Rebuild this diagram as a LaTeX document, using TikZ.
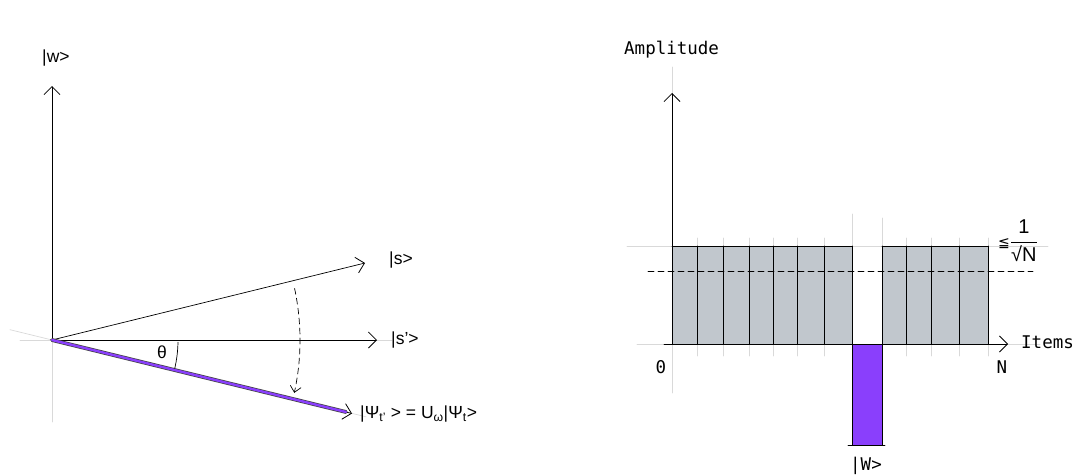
\documentclass[tikz,border=0pt]{standalone}
\usepackage{fontspec}
\setmainfont{Liberation Sans}
\newfontfamily\monofont{DejaVu Sans Mono}
\newfontfamily\symfont{DejaVu Sans}
\usetikzlibrary{arrows.meta}

\begin{document}
\begin{tikzpicture}[x=1pt, y=-1pt, line cap=round,
		% Styles
		guide line/.style={black!15, line width=0.7pt},
		vector/.style={-{Straight Barb[length=8pt, width=16pt, line width=0.8pt]}, line width=0.7pt},
		small vector/.style={-{Straight Barb[length=6pt, width=11pt, line width=0.7pt]}, line width=0.7pt},
		sans label/.style={font=\fontsize{17.5}{21}\selectfont, inner sep=0pt},
		mono label/.style={font=\monofont\fontsize{17.5}{21}\selectfont, inner sep=0pt}
		]
		
		% Colors
		\definecolor{statecolor}{HTML}{8A3FFC}
		\definecolor{barcolor}{HTML}{C1C7CD}
		
		\useasboundingbox (0,0) rectangle (1082,475);
		
		% ---- Left: the state turned by the oracle ----
		\coordinate (O) at (52,340);
		\coordinate (w tip) at (52,86);
		\coordinate (s tip) at (365,263);
		\coordinate (s' tip) at (377,340);
		\coordinate (psi tip) at (352,413.5);
		\coordinate (psi end) at (346,412);
		
		% help lines
		\draw[guide line] (52,422) -- (52,330);
		\draw[guide line] (20,340) -- (392,340);
		\draw[guide line] (10,329.7) -- (366,416.8);
		
		\draw[vector] (O) -- (w tip);
		\draw[vector] (O) -- (s tip);
		\draw[vector] (O) -- (s' tip);
		
		% the new state
		\draw[line width=3.8pt, black!75] (O) -- (psi end);
		\draw[vector] (O) -- (psi tip);
		\draw[line width=2.4pt, statecolor] (O) -- (psi end);
		
		% angle and rotation
		\draw[line width=0.7pt] (O) ++(1:126) arc [start angle=1, end angle=13, radius=126];
		\draw[small vector, dash pattern=on 6pt off 4pt] (O) ++(-12:248) arc [start angle=-12, end angle=12.3, radius=248];
		
		\node[sans label] (theta) at (162,352) {θ};
		\node[sans label, anchor=west] (w) at (42,58) {|w>};
		\node[sans label, anchor=west] (s) at (389,260) {|s>};
		\node[sans label, anchor=west] (s') at (391,340) {|s’>};
		\node[sans label, anchor=west] (psi) at (360,414) {|Ψ\textsubscript{t’} > = U\textsubscript{ω}|Ψ\textsubscript{t}>};
		
		% ---- Right: amplitudes of the items ----
		\coordinate (A) at (672,344);
		\coordinate (amp tip) at (672,93);
		\coordinate (items start) at (664,344);
		\coordinate (items tip) at (1008,344);
		
		% help lines
		\draw[guide line] (672,67) -- (672,393);
		\draw[guide line] (637,344) -- (1040,344);
		\draw[guide line] (627,246) -- (1048,246);
		\draw[guide line] (852,214) -- (852,344);
		\draw[guide line] (882,218) -- (882,344);
		
		% uniform amplitudes
		\fill[barcolor] (672,246) rectangle (852,344);
		\fill[barcolor] (882,246) rectangle (988,344);
		\foreach \x in {672,697,723,749,773,797,824,852,882,906,931,959,988} {
			\draw[guide line] (\x,238) -- (\x,356);
			\draw[line width=0.8pt] (\x,246) -- (\x,344);
		}
		\draw[line width=0.8pt] (672,246) -- (852,246);
		\draw[line width=0.8pt] (882,246) -- (988,246);
		
		% marked item
		\fill[statecolor] (852,344) rectangle (882,445);
		\draw[line width=0.8pt] (852,344) -- (852,445);
		\draw[line width=0.8pt] (882,344) -- (882,445);
		\draw[line width=0.8pt] (848,445) -- (885,445);
		
		% mean
		\draw[line width=0.7pt, dash pattern=on 6pt off 4pt] (648,271) -- (1033,271);
		
		\draw[vector] (A) -- (amp tip);
		\draw[vector] (items start) -- (items tip);
		
		\node[mono label, anchor=west] (amplitude) at (624,50) {Amplitude};
		\node[mono label, anchor=west] (items) at (1021,342) {Items};
		\node[mono label] (zero) at (661,367) {0};
		\node[mono label] (n) at (1002,367) {N};
		\node[mono label] (marked) at (866,466) {|W>};
		\node[anchor=west, inner sep=0pt, font=\fontsize{20}{24}\selectfont] (bound) at (998,241) {{\symfont\fontsize{14}{16}\selectfont ≦}$\displaystyle\frac{\mbox{1}}{\mbox{√N}}$};
		
	\end{tikzpicture}
\end{document}
